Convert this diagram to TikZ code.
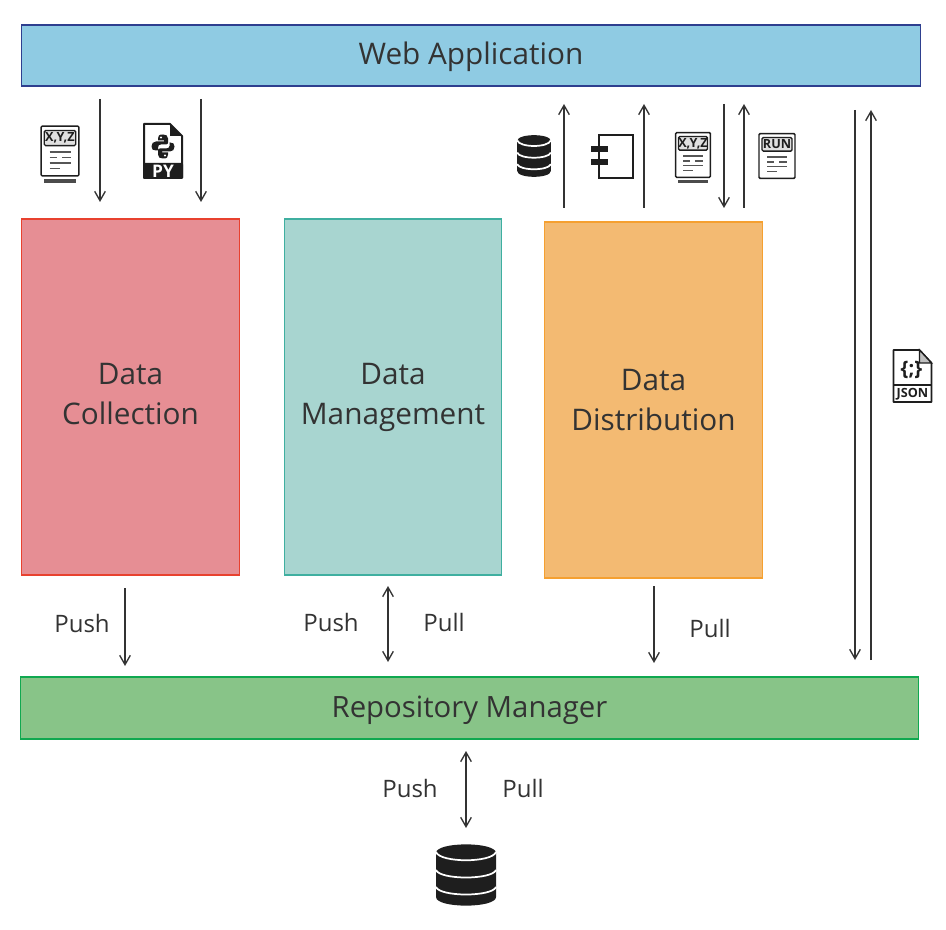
\documentclass[tikz,border=0pt]{standalone}
\usepackage{fontspec}
\setmainfont{Open Sans}
\usetikzlibrary{arrows.meta}

\definecolor{inkgrey}{HTML}{333333}
\definecolor{iconblack}{HTML}{1E1E1E}

\tikzset{every picture/.style={line width=0.75pt}}
\tikzset{
  blockbox/.style={draw,line width=1pt,inner sep=0pt},
  blockname/.style={inner sep=0pt,text=inkgrey,align=center,font=\fontsize{22.3}{30}\selectfont},
  flowlabel/.style={inner sep=0.75pt,text=inkgrey,font=\fontsize{18}{22}\selectfont},
  flowarrow/.style={draw=inkgrey,line width=1pt,-{Straight Barb[length=7pt,width=8pt,line width=1pt]}},
  twoarrow/.style={draw=inkgrey,line width=1pt,{Straight Barb[length=7pt,width=8pt,line width=1pt]}-{Straight Barb[length=7pt,width=8pt,line width=1pt]}},
  docicon/.pic={
    \draw[iconblack,line width=1.1pt,fill=white,rounded corners=0.8pt] (-18,-23) rectangle (18,23);
    \draw[iconblack,line width=1pt,fill=black!12,rounded corners=1pt] (-15,-19) rectangle (15,-5);
    \node[inner sep=0pt,text=iconblack,font=\bfseries\fontsize{9.5}{10}\selectfont] (-title) at (0,-12) {#1};
    \draw[iconblack!75,line width=1.1pt] (-10,1) -- (10,1) (-10,6) -- (-3,6) (2,6) -- (10,6) (-10,11) -- (10,11) (-10,16) -- (0,16);
  },
  stackbar/.pic={
    \fill[iconblack!80] (-15,0) rectangle (15,3);
  },
  dbicon/.pic={
    \fill[iconblack] (-30,-22) .. controls (-30,-33.5) and (30,-33.5) .. (30,-22) -- (30,22) .. controls (30,33.5) and (-30,33.5) .. (-30,22) -- cycle;
    \draw[white,line width=1.3pt] (-30,-23) .. controls (-26,-12) and (26,-12) .. (30,-23);
    \draw[white,line width=1.3pt] (-30,-5) .. controls (-26,5) and (26,5) .. (30,-5);
    \draw[white,line width=1.3pt] (-30,12) .. controls (-26,22) and (26,22) .. (30,12);
  },
  pyicon/.pic={
    \draw[iconblack,line width=1.5pt,fill=white,line join=round] (-19,-27) -- (7,-27) -- (19,-15) -- (19,27) -- (-19,27) -- cycle;
    \fill[iconblack,rounded corners=1pt] (-20,12) rectangle (20,28);
    \fill[iconblack] (7,-27) -- (7,-15) -- (19,-15) -- cycle;
    \fill[iconblack] (0,-16.5) .. controls (-4,-16.5) and (-5,-15.5) .. (-5,-12.5) -- (-5,-10.5) -- (1,-10.5) -- (1,-9.5) -- (-7,-9.5) .. controls (-10,-9.5) and (-11.5,-7.5) .. (-11.5,-4.5) .. controls (-11.5,-1.5) and (-10,-0.5) .. (-7,-0.5) -- (-5,-0.5) -- (-5,-3.5) .. controls (-5,-5.5) and (-4,-6.5) .. (-2,-6.5) -- (3,-6.5) .. controls (4.5,-6.5) and (5,-7.5) .. (5,-8.5) -- (5,-12.5) .. controls (5,-15.5) and (3,-16.5) .. (0,-16.5) -- cycle;
    \fill[iconblack] (0,7.5) .. controls (4,7.5) and (5,6.5) .. (5,3.5) -- (5,1.5) -- (-1,1.5) -- (-1,0.5) -- (7,0.5) .. controls (10,0.5) and (11.5,-1.5) .. (11.5,-4.5) .. controls (11.5,-7.5) and (10,-8.5) .. (7,-8.5) -- (6.5,-8.5) -- (6.5,-5) .. controls (6.5,-3.5) and (5,-2.5) .. (3,-2.5) -- (-3,-2.5) .. controls (-4.5,-2.5) and (-5,-1.5) .. (-5,-0.5) -- (-5,3.5) .. controls (-5,6.5) and (-3,7.5) .. (0,7.5) -- cycle;
    \fill[white] (-2,-13.5) circle (1.1) (2,4.5) circle (1.1);
    \node[inner sep=0pt,text=white,font=\bfseries\fontsize{13}{14}\selectfont] (-title) at (0,20) {PY};
  },
  jsonicon/.pic={
    \draw[iconblack,line width=1.3pt,fill=white,line join=round] (-19,-26) -- (7,-26) -- (19,-13) -- (19,26) -- (-19,26) -- cycle;
    \draw[iconblack,line width=1pt,fill=black!25] (7,-26) -- (7,-13) -- (19,-13) -- cycle;
    \draw[iconblack,line width=1.1pt] (-19,9) -- (19,9);
    \node[inner sep=0pt,text=iconblack,font=\bfseries\fontsize{15}{16}\selectfont] (-brace) at (-1,-6) {\{;\}};
    \node[inner sep=0pt,text=iconblack,font=\bfseries\fontsize{9.5}{10}\selectfont] (-title) at (0,18) {JSON};
  }
}

\begin{document}
\begin{tikzpicture}[x=0.75pt,y=0.75pt,yscale=-1,xscale=1]
\useasboundingbox (0,0) rectangle (946,930);

% Blocks
\node [blockbox,draw={rgb,255:red,46;green,63;blue,143},fill={rgb,255:red,143;green,203;blue,227},minimum width=674.25pt,minimum height=45.75pt] (webapp) at (471,55.5) {};
\node [blockbox,draw={rgb,255:red,232;green,65;blue,47},fill={rgb,255:red,230;green,142;blue,148},minimum width=163.5pt,minimum height=267pt] (collection) at (130.5,397) {};
\node [blockbox,draw={rgb,255:red,63;green,175;blue,160},fill={rgb,255:red,168;green,213;blue,208},minimum width=162.75pt,minimum height=267pt] (management) at (393,397) {};
\node [blockbox,draw={rgb,255:red,245;green,160;blue,48},fill={rgb,255:red,243;green,186;blue,114},minimum width=163.5pt,minimum height=267pt] (distribution) at (653.5,400) {};
\node [blockbox,draw={rgb,255:red,16;green,168;blue,80},fill={rgb,255:red,136;green,196;blue,136},minimum width=673.5pt,minimum height=46.5pt] (repomanager) at (469.5,708) {};

% Block names
\node [blockname] (webappname) at (471,57) {Web Application};
\node [blockname] (collectionname) at (130.5,394.5) {Data\\Collection};
\node [blockname] (managementname) at (393,397) {Data\\Management};
\node [blockname] (distributionname) at (653.5,400) {Data\\Distribution};
\node [blockname,font=\fontsize{22}{30}\selectfont] (repomanagername) at (469.5,710) {Repository Manager};

% Arrow ends
\coordinate (xyzintop) at (100,99);
\coordinate (xyzinend) at (100,202);
\coordinate (pyintop) at (201,99);
\coordinate (pyinend) at (201,202);
\coordinate (dbupfoot) at (564,208);
\coordinate (dbuptip) at (564,104);
\coordinate (compfoot) at (644,208);
\coordinate (comptip) at (644,104);
\coordinate (xyzdowntop) at (724,104);
\coordinate (xyzdownend) at (724,208);
\coordinate (runfoot) at (744,208);
\coordinate (runtip) at (744,104);
\coordinate (jsondowntop) at (855,110);
\coordinate (jsondownend) at (855,660);
\coordinate (jsonupfoot) at (871,660);
\coordinate (jsonuptip) at (871,110);
\coordinate (pushtop) at (125,588);
\coordinate (pushend) at (125,666);
\coordinate (synctop) at (388,586);
\coordinate (syncend) at (388,662);
\coordinate (pulltop) at (654,586);
\coordinate (pullend) at (654,663);
\coordinate (storetop) at (466,751);
\coordinate (storeend) at (466,828);

% Arrows
\draw [flowarrow] (xyzintop) -- (xyzinend);
\draw [flowarrow] (pyintop) -- (pyinend);
\draw [flowarrow] (dbupfoot) -- (dbuptip);
\draw [flowarrow] (compfoot) -- (comptip);
\draw [flowarrow] (xyzdowntop) -- (xyzdownend);
\draw [flowarrow] (runfoot) -- (runtip);
\draw [flowarrow] (jsondowntop) -- (jsondownend);
\draw [flowarrow] (jsonupfoot) -- (jsonuptip);
\draw [flowarrow] (pushtop) -- (pushend);
\draw [twoarrow] (synctop) -- (syncend);
\draw [flowarrow] (pulltop) -- (pullend);
\draw [twoarrow] (storetop) -- (storeend);

% Labels
\node [flowlabel] (pushone) at (82,623) {Push};
\node [flowlabel] (pushtwo) at (331,622) {Push};
\node [flowlabel] (pullone) at (444,622) {Pull};
\node [flowlabel] (pulltwo) at (710,628) {Pull};
\node [flowlabel] (pushthree) at (410,788) {Push};
\node [flowlabel] (pullthree) at (523,788) {Pull};

% Icons
\pic [xscale=1.05,yscale=-1.08] (xyzbar) at (60,179.5) {stackbar};
\pic [xscale=1.05,yscale=-1.08] (xyzone) at (60,151) {docicon={X,Y,Z}};
\pic [yscale=-1] (pyfile) at (163,151) {pyicon};
\pic [xscale=0.56,yscale=-0.68] (smalldb) at (534,156) {dbicon};
\pic [xscale=0.97,yscale=-0.97] (xyzbartwo) at (693,180) {stackbar};
\pic [xscale=0.97,yscale=-0.97] (xyztwo) at (693,155) {docicon={X,Y,Z}};
\pic [xscale=1,yscale=-0.97] (runfile) at (777,156) {docicon={RUN}};
\pic [yscale=-1] (jsonfile) at (912.5,376) {jsonicon};
\pic [yscale=-1] (bigdb) at (466,875) {dbicon};

%Shape: Component
\draw [iconblack,line width=1.1pt] (599,135) rectangle (633,178);
\fill [iconblack] (591,146) rectangle (608,152);
\fill [iconblack] (591,159) rectangle (608,165);

\end{tikzpicture}
\end{document}
